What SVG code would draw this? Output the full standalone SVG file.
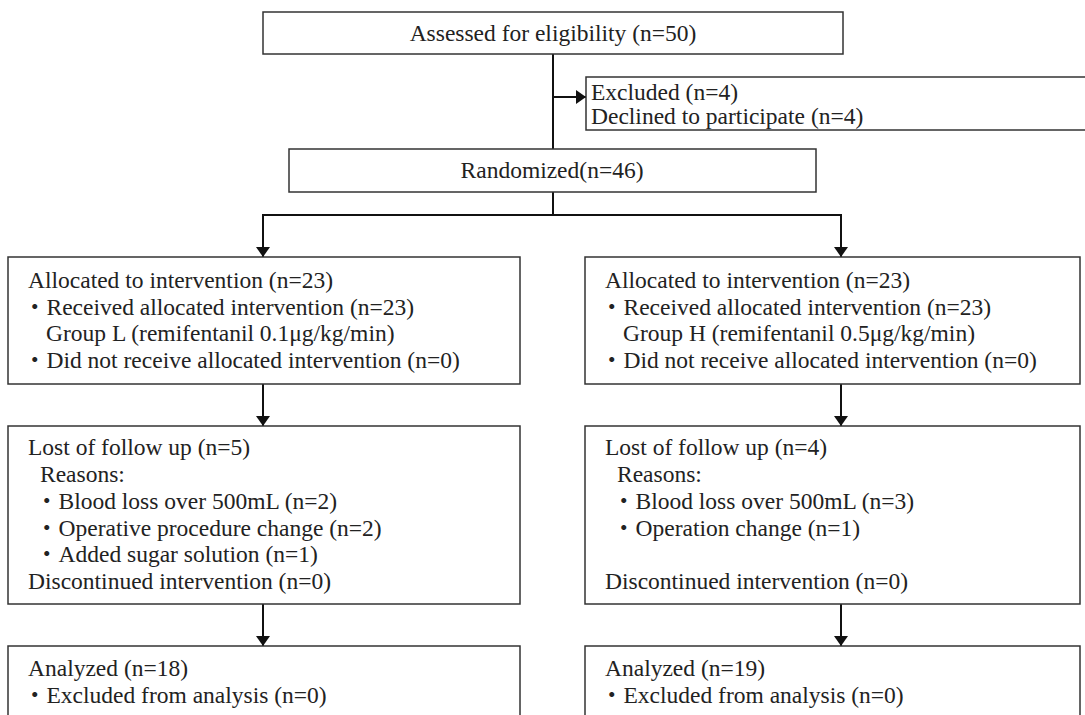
<svg xmlns="http://www.w3.org/2000/svg" width="1085" height="715" viewBox="0 0 1085 715">
<style>
.box{fill:#fff;stroke:#333;stroke-width:1.5}
.t{font-family:"Liberation Serif","Noto Sans CJK JP",serif;font-size:23.5px;fill:#222}
.c{text-anchor:middle}
.ln{fill:none;stroke:#111;stroke-width:2}
</style>
<defs>
<marker id="ah" viewBox="0 0 10 14" refX="10" refY="7" markerWidth="10" markerHeight="14" markerUnits="userSpaceOnUse" orient="auto">
<path d="M0,0 L10,7 L0,14 Z" fill="#111"/>
</marker>
</defs>
<rect width="1085" height="715" fill="#fff"/>
<g id="connectors">
<line class="ln" x1="553" y1="54" x2="553" y2="149"/>
<line class="ln" x1="553" y1="97" x2="586" y2="97" marker-end="url(#ah)"/>
<polyline class="ln" points="553,192 553,215 263,215 263,257" marker-end="url(#ah)"/>
<polyline class="ln" points="553,215 841,215 841,257" marker-end="url(#ah)"/>
<line class="ln" x1="263" y1="384" x2="263" y2="426" marker-end="url(#ah)"/>
<line class="ln" x1="841" y1="384" x2="841" y2="426" marker-end="url(#ah)"/>
<line class="ln" x1="263" y1="604" x2="263" y2="646" marker-end="url(#ah)"/>
<line class="ln" x1="841" y1="604" x2="841" y2="646" marker-end="url(#ah)"/>
</g>
<g id="assessed">
<rect class="box" x="263" y="12" width="580" height="42"/>
<text class="t c" x="553" y="41">Assessed for eligibility (n=50)</text>
</g>
<g id="excluded">
<rect class="box" x="586" y="77" width="510" height="53"/>
<text class="t" x="591" y="100">Excluded (n=4)</text>
<text class="t" x="591" y="124">Declined to participate (n=4)</text>
</g>
<g id="randomized">
<rect class="box" x="289" y="149" width="527" height="43"/>
<text class="t c" x="552" y="178">Randomized(n=46)</text>
</g>
<g id="allocL">
<rect class="box" x="8" y="257" width="512" height="127"/>
<text class="t" x="28" y="288">Allocated to intervention (n=23)</text>
<text class="t" x="23" y="315">・Received allocated intervention (n=23)</text>
<text class="t" x="46" y="341">Group L (remifentanil 0.1μg/kg/min)</text>
<text class="t" x="23" y="368">・Did not receive allocated intervention (n=0)</text>
</g>
<g id="allocH">
<rect class="box" x="585" y="257" width="495" height="127"/>
<text class="t" x="605" y="288">Allocated to intervention (n=23)</text>
<text class="t" x="600" y="315">・Received allocated intervention (n=23)</text>
<text class="t" x="623" y="341">Group H (remifentanil 0.5μg/kg/min)</text>
<text class="t" x="600" y="368">・Did not receive allocated intervention (n=0)</text>
</g>
<g id="lostL">
<rect class="box" x="8" y="426" width="512" height="178"/>
<text class="t" x="28" y="455">Lost of follow up (n=5)</text>
<text class="t" x="40" y="482">Reasons:</text>
<text class="t" x="35" y="509">・Blood loss over 500mL (n=2)</text>
<text class="t" x="35" y="536">・Operative procedure change (n=2)</text>
<text class="t" x="35" y="562">・Added sugar solution (n=1)</text>
<text class="t" x="28" y="589">Discontinued intervention (n=0)</text>
</g>
<g id="lostH">
<rect class="box" x="585" y="426" width="495" height="178"/>
<text class="t" x="605" y="455">Lost of follow up (n=4)</text>
<text class="t" x="617" y="482">Reasons:</text>
<text class="t" x="612" y="509">・Blood loss over 500mL (n=3)</text>
<text class="t" x="612" y="536">・Operation change (n=1)</text>
<text class="t" x="605" y="589">Discontinued intervention (n=0)</text>
</g>
<g id="analyzedL">
<rect class="box" x="8" y="646" width="512" height="90"/>
<text class="t" x="28" y="676">Analyzed (n=18)</text>
<text class="t" x="23" y="703">・Excluded from analysis (n=0)</text>
</g>
<g id="analyzedH">
<rect class="box" x="585" y="646" width="495" height="90"/>
<text class="t" x="605" y="676">Analyzed (n=19)</text>
<text class="t" x="600" y="703">・Excluded from analysis (n=0)</text>
</g>
</svg>
